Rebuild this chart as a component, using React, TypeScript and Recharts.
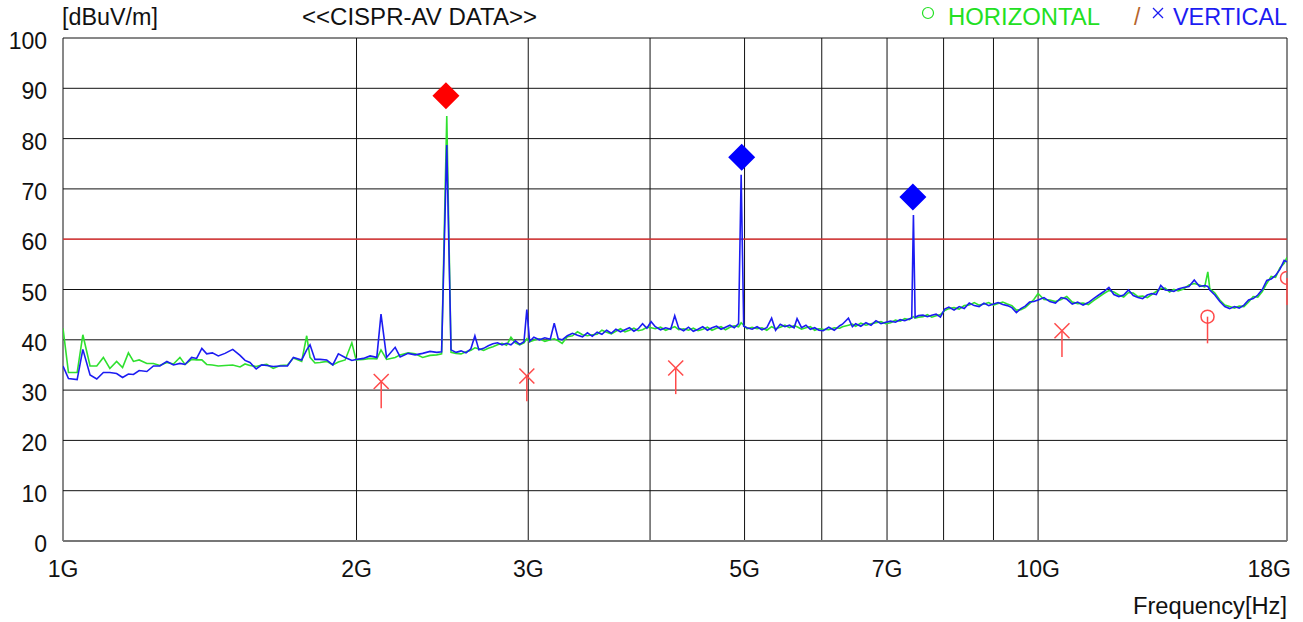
import { ComposedChart, Line, Scatter, XAxis, YAxis, CartesianGrid, ReferenceLine } from 'recharts'

const FONT = "'Liberation Sans', Arial, sans-serif"
const FONT_SIZE = 23
const GREEN = '#2fe02f'
const BLUE = '#1c1cf2'
const RED = '#ff4a4a'

// frequency in GHz, shared by both traces
const freqGHz = [
  1.000, 1.013, 1.034, 1.048, 1.066, 1.083, 1.100, 1.117, 1.135, 1.151,
  1.167, 1.181, 1.197, 1.219, 1.238, 1.257, 1.278, 1.298, 1.318, 1.334,
  1.355, 1.371, 1.388, 1.404, 1.423, 1.443, 1.466, 1.493, 1.519, 1.537,
  1.555, 1.578, 1.599, 1.618, 1.643, 1.670, 1.699, 1.723, 1.757, 1.778,
  1.792, 1.813, 1.835, 1.864, 1.891, 1.916, 1.947, 1.978, 1.998, 2.033,
  2.065, 2.098, 2.119, 2.147, 2.191, 2.217, 2.259, 2.297, 2.338, 2.379,
  2.417, 2.445, 2.475,
  2.50, 2.53, 2.56, 2.59, 2.62, 2.645, 2.67, 2.70, 2.73, 2.76,
  2.79, 2.82, 2.85, 2.88, 2.91, 2.94, 2.97, 2.99, 3.01, 3.04,
  3.08, 3.12, 3.16, 3.19, 3.22, 3.25, 3.29, 3.33, 3.37, 3.41,
  3.45, 3.49, 3.53, 3.57, 3.61, 3.65, 3.69, 3.73, 3.77, 3.81,
  3.85, 3.89, 3.93, 3.97, 4.01, 4.05, 4.10, 4.15, 4.20, 4.24,
  4.28, 4.33, 4.38, 4.43, 4.48, 4.53, 4.58, 4.63, 4.68, 4.73,
  4.78, 4.83, 4.88, 4.93, 4.96, 4.99, 5.03, 5.09, 5.15, 5.21,
  5.27, 5.33, 5.38, 5.44, 5.50, 5.56, 5.62, 5.66, 5.72, 5.78,
  5.84, 5.90, 5.96, 6.02, 6.10, 6.18, 6.26, 6.30, 6.39, 6.45,
  6.50, 6.58, 6.66, 6.74, 6.82, 6.90, 6.98, 7.06, 7.14, 7.22,
  7.30, 7.38, 7.42, 7.45, 7.48, 7.54, 7.62, 7.70, 7.78, 7.86,
  7.94, 8.02, 8.1, 8.2, 8.3, 8.4, 8.5, 8.6, 8.7, 8.8,
  8.9, 9.0, 9.1, 9.2, 9.3, 9.4, 9.5, 9.6, 9.7, 9.8,
  9.9, 10.0, 10.14, 10.28, 10.42, 10.56, 10.70, 10.84, 10.98, 11.12,
  11.26, 11.40, 11.54, 11.68, 11.82, 11.96, 12.10, 12.24, 12.38, 12.52,
  12.66, 12.80, 12.94, 13.08, 13.22, 13.36, 13.50, 13.64, 13.78, 13.92,
  14.10, 14.28, 14.46, 14.64, 14.82, 14.93, 15.00, 15.18, 15.36, 15.54,
  15.72, 15.90, 16.08, 16.26, 16.44, 16.62, 16.80, 16.98, 17.16, 17.34,
  17.52, 17.70, 17.88, 18.00,
]

// HORIZONTAL trace, dBuV/m
const horizontal = [
  42.3, 33.5, 33.5, 41.0, 34.8, 34.8, 36.5, 34.3, 35.7, 34.5,
  37.4, 35.7, 36.0, 35.3, 35.3, 34.9, 35.5, 35.2, 36.5, 35.1,
  36.1, 36.0, 36.0, 35.1, 35.0, 34.8, 34.9, 35.0, 34.6, 35.2,
  34.9, 34.7, 35.0, 35.1, 34.3, 34.9, 35.0, 36.4, 35.7, 40.8,
  36.5, 35.4, 35.5, 35.7, 35.0, 35.6, 36.0, 39.4, 36.0, 36.1,
  36.3, 36.2, 38.0, 36.1, 36.5, 37.0, 37.4, 37.2, 36.5, 36.9,
  37.0, 37.2, 84.5,
  37.5, 37.3, 37.2, 37.6, 37.9, 38.4, 38.2, 37.9, 38.3, 38.6,
  39.0, 39.3, 38.9, 40.5, 39.4, 39.0, 39.4, 40.2, 39.6, 39.9,
  40.2, 39.7, 40.0, 40.2, 39.8, 39.3, 40.6, 40.8, 41.6, 41.0,
  40.8, 41.0, 41.1, 41.9, 41.5, 41.2, 41.7, 42.2, 41.6, 41.9,
  42.3, 41.8, 42.0, 42.5, 42.4, 42.2, 42.5, 41.9, 42.3, 42.6,
  42.0, 42.2, 41.9, 42.3, 41.8, 42.1, 42.5, 41.9, 42.3, 42.6,
  42.0, 42.5, 42.8, 42.6, 43.4, 42.9, 42.2, 42.5, 42.2, 42.4,
  41.9, 42.6, 42.2, 42.5, 42.9, 42.4, 42.8, 42.6, 42.1, 42.4,
  42.6, 41.9, 42.2, 42.1, 42.0, 42.4, 42.3, 42.6, 42.9, 43.1,
  42.7, 43.3, 42.9, 43.2, 43.4, 43.6, 43.2, 43.4, 43.9, 43.7,
  44.2, 44.0, 44.4, 44.6, 44.3, 44.5, 44.6, 45.0, 44.5, 44.8,
  45.0, 45.8, 46.2, 46.4, 46.1, 46.8, 46.9, 47.4, 46.9, 47.1,
  47.4, 46.9, 47.2, 47.5, 47.1, 46.8, 45.9, 46.0, 46.4, 47.2,
  48.0, 49.2, 48.0, 47.9, 47.6, 48.0, 48.6, 47.5, 47.2, 47.3,
  47.0, 47.8, 48.5, 49.2, 49.8, 49.5, 48.9, 48.5, 49.4, 49.3,
  48.6, 48.7, 48.4, 49.0, 49.6, 50.2, 50.3, 49.5, 50.0, 49.7,
  50.1, 50.9, 51.2, 50.9, 50.5, 53.5, 50.2, 49.3, 47.9, 46.9,
  46.6, 46.3, 46.7, 46.6, 47.5, 48.6, 48.5, 49.6, 51.2, 52.6,
  52.4, 54.3, 55.2, 56.4,
]

// VERTICAL trace, dBuV/m
const vertical = [
  34.8, 32.3, 32.1, 38.1, 33.0, 32.2, 33.5, 33.5, 33.3, 32.5,
  33.2, 33.1, 33.9, 33.7, 34.8, 34.8, 35.7, 35.0, 35.3, 35.1,
  36.5, 36.3, 38.3, 37.2, 37.4, 36.8, 37.3, 38.1, 36.9, 35.9,
  35.5, 34.2, 35.0, 34.9, 34.7, 34.8, 34.8, 36.5, 36.0, 38.0,
  39.0, 36.1, 36.1, 36.0, 35.0, 37.2, 36.5, 35.9, 36.1, 36.3,
  36.8, 36.5, 45.1, 36.5, 38.5, 36.6, 37.3, 37.0, 37.3, 37.7,
  37.5, 37.6, 78.7,
  38.0, 37.5, 37.8, 37.4, 38.2, 40.8, 38.0, 38.3, 38.8, 39.2,
  39.4, 39.0, 39.3, 39.0, 39.8, 39.1, 39.6, 46.0, 39.7, 40.5,
  40.0, 40.4, 40.1, 43.3, 40.2, 40.0, 40.8, 41.3, 40.9, 40.6,
  41.4, 40.7, 41.5, 41.1, 41.9, 41.3, 42.1, 41.6, 42.0, 42.4,
  41.7, 42.2, 43.2, 42.3, 43.6, 42.6, 42.0, 42.4, 42.1, 44.8,
  42.3, 41.8, 42.5, 41.7, 42.1, 42.6, 41.9, 42.4, 42.7, 42.1,
  42.5, 42.9, 42.4, 43.2, 72.8, 42.7, 42.4, 42.1, 42.6, 42.0,
  42.4, 44.3, 41.9, 43.1, 42.6, 42.9, 42.4, 44.2, 42.4, 42.9,
  42.1, 42.4, 41.9, 41.8, 42.5, 41.9, 42.8, 43.1, 44.3, 42.6,
  43.2, 42.7, 43.4, 42.9, 43.8, 43.2, 43.5, 43.7, 43.5, 44.0,
  43.8, 44.2, 44.3, 64.8, 44.5, 44.8, 44.9, 44.6, 44.9, 45.1,
  44.5, 46.1, 46.5, 45.9, 46.6, 46.2, 47.3, 46.8, 46.6, 47.3,
  46.8, 47.1, 47.4, 47.0, 46.8, 46.4, 45.4, 46.2, 46.7, 47.5,
  47.6, 47.9, 48.4, 47.6, 47.3, 48.4, 48.1, 47.1, 47.5, 46.9,
  47.4, 48.2, 48.9, 49.6, 50.4, 49.0, 48.6, 48.9, 49.9, 48.8,
  48.4, 48.2, 48.9, 49.2, 49.0, 50.8, 49.9, 49.8, 49.6, 50.1,
  50.4, 50.6, 51.9, 50.6, 50.8, 50.6, 49.9, 48.9, 47.6, 46.6,
  46.2, 46.6, 46.3, 46.9, 47.9, 48.2, 48.9, 50.0, 51.8, 52.1,
  52.8, 54.0, 55.8, 55.5,
]

const xTicks = [1, 2, 3, 4, 5, 6, 7, 8, 9, 10, 18]
const xTickLabels = ['1G', '2G', '3G', '', '5G', '', '7G', '', '', '10G', '18G']
const yTicks = [0, 10, 20, 30, 40, 50, 60, 70, 80, 90, 100]

const limitLevel = 60

// peak markers (diamonds)
const redPeakFreq = [2.47]
const redPeakLevel = [88.5]
const bluePeakFreq = [4.966, 7.44]
const bluePeakLevel = [76.3, 68.4]

// final measurements: level and lower end of stick
const vFinalFreq = [2.12, 2.99, 4.25, 10.58]
const vFinalLevel = [31.7, 32.8, 34.4, 41.8]
const vFinalLow = [26.4, 27.8, 29.2, 36.6]
const hFinalFreq = [14.92, 18.0]
const hFinalLevel = [44.6, 52.3]
const hFinalLow = [39.3, 46.9]

const traceRows = freqGHz.map((f, i) => ({ f, h: horizontal[i], v: vertical[i] }))
const points = (fs: number[], ls: number[], lows: number[] = []) =>
  fs.map((f, i) => ({ f, level: ls[i], low: lows[i] }))

const redPeaks = points(redPeakFreq, redPeakLevel)
const bluePeaks = points(bluePeakFreq, bluePeakLevel)
const vFinals = points(vFinalFreq, vFinalLevel, vFinalLow)
const hFinals = points(hFinalFreq, hFinalLevel, hFinalLow)

const diamond = (color: string) => (props: any) => {
  const { cx, cy } = props
  const r = 13.5
  return (
    <polygon
      points={`${cx},${cy - r} ${cx + r},${cy} ${cx},${cy + r} ${cx - r},${cy}`}
      fill={color}
    />
  )
}

const crossMark = (props: any) => {
  const { cx, cy } = props
  const r = 7.5
  return (
    <g stroke={RED} strokeWidth={1.5}>
      <line x1={cx - r} y1={cy - r} x2={cx + r} y2={cy + r} />
      <line x1={cx - r} y1={cy + r} x2={cx + r} y2={cy - r} />
    </g>
  )
}

const ringMark = (props: any) => {
  const { cx, cy } = props
  return <circle cx={cx} cy={cy} r={6.5} fill="none" stroke={RED} strokeWidth={1.5} />
}

const XTick = (props: any) => {
  const { x, y, payload } = props
  const label = xTickLabels[xTicks.indexOf(payload.value)]
  const last = payload.value === 18
  return (
    <text
      x={last ? x + 4 : x}
      y={y + 36}
      textAnchor={last ? 'end' : 'middle'}
      fontFamily={FONT}
      fontSize={FONT_SIZE}
      fill="#111"
    >
      {label}
    </text>
  )
}

const YTick = (props: any) => {
  const { x, y, payload } = props
  return (
    <text x={x} y={y + 11} textAnchor="end" fontFamily={FONT} fontSize={FONT_SIZE} fill="#111">
      {payload.value}
    </text>
  )
}

const App = () => {
  return (
    <div style={{ position: 'absolute', left: 0, top: 0, width: 1303, height: 622, background: '#fff' }}>
      <ComposedChart
        width={1303}
        height={622}
        data={traceRows}
        margin={{ top: 38, right: 16, bottom: 51, left: 0 }}
      >
        <CartesianGrid stroke="#111" strokeWidth={1} />
        <XAxis
          dataKey="f"
          type="number"
          scale="log"
          domain={[1, 18]}
          allowDataOverflow
          ticks={xTicks}
          interval={0}
          tick={<XTick />}
          tickLine={false}
          tickSize={0}
          tickMargin={0}
          axisLine={{ stroke: '#777', strokeWidth: 2 }}
          height={30}
        />
        <YAxis
          type="number"
          domain={[0, 100]}
          allowDataOverflow
          ticks={yTicks}
          interval={0}
          tick={<YTick />}
          tickLine={false}
          tickSize={0}
          tickMargin={16}
          axisLine={false}
          width={63}
        />
        <ReferenceLine y={limitLevel} stroke="#ff3a3a" strokeWidth={1.2} />
        <Line type="linear" dataKey="h" stroke={GREEN} strokeWidth={1.6} dot={false} isAnimationActive={false} />
        <Line type="linear" dataKey="v" stroke={BLUE} strokeWidth={1.6} dot={false} isAnimationActive={false} />
        {[...vFinals, ...hFinals].map((d, i) => (
          <ReferenceLine
            key={`stick-${i}`}
            segment={[{ x: d.f, y: d.level }, { x: d.f, y: d.low }]}
            stroke={RED}
            strokeWidth={1.5}
          />
        ))}
        <Scatter data={vFinals} dataKey="level" shape={crossMark} isAnimationActive={false} />
        <Scatter data={hFinals} dataKey="level" shape={ringMark} isAnimationActive={false} />
        <Scatter data={redPeaks} dataKey="level" shape={diamond('#ff0000')} isAnimationActive={false} />
        <Scatter data={bluePeaks} dataKey="level" shape={diamond('#0000ff')} isAnimationActive={false} />
      </ComposedChart>
      <svg
        width={1303}
        height={622}
        style={{ position: 'absolute', left: 0, top: 0, pointerEvents: 'none' }}
        fontFamily={FONT}
        fontSize={FONT_SIZE}
      >
        <text x={62} y={25} fill="#111" textLength={96} lengthAdjust="spacingAndGlyphs">[dBuV/m]</text>
        <text x={302} y={25} fill="#111" textLength={235} lengthAdjust="spacingAndGlyphs">
          {'<<CISPR-AV DATA>>'}
        </text>
        <circle cx={928} cy={13} r={5.5} fill="none" stroke="#22e022" strokeWidth={1.2} />
        <text x={948} y={25} fill="#22e022" textLength={152} lengthAdjust="spacingAndGlyphs">HORIZONTAL</text>
        <text x={1134} y={25} fill="#b5652d">/</text>
        <g stroke={BLUE} strokeWidth={1.2}>
          <line x1={1153} y1={8} x2={1163} y2={18} />
          <line x1={1153} y1={18} x2={1163} y2={8} />
        </g>
        <text x={1173} y={25} fill={BLUE} textLength={114} lengthAdjust="spacingAndGlyphs">VERTICAL</text>
        <text x={1133} y={614} fill="#111" textLength={154} lengthAdjust="spacingAndGlyphs">Frequency[Hz]</text>
      </svg>
    </div>
  )
}

export default App
